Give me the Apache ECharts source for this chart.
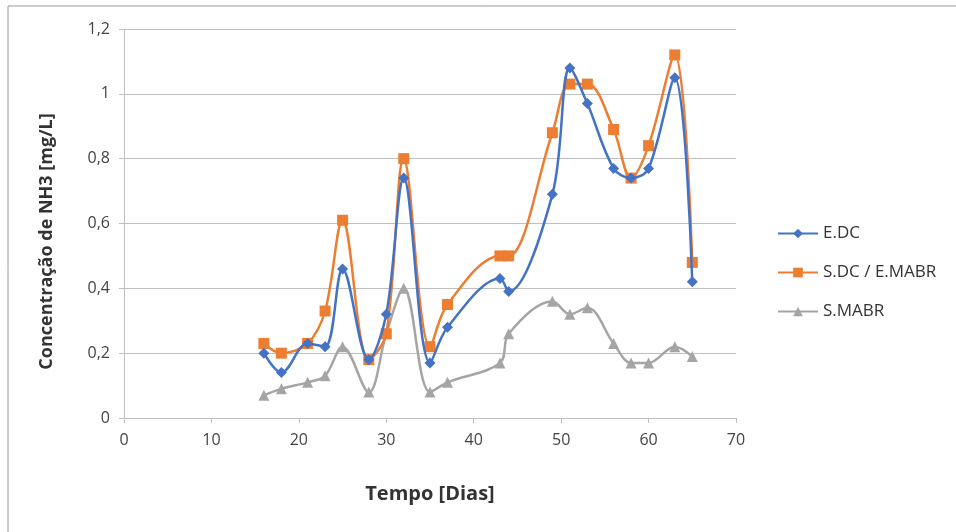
<!doctype html>
<html>
<head>
    <meta charset="utf-8">
    <title>NH3</title>
    <script src="https://cdn.jsdelivr.net/npm/echarts@6/dist/echarts.min.js"></script>
    <style>
        html, body { margin: 0; padding: 0; background: #fff; }
    </style>
</head>
<body>
    <div id="main" style="width: 956px;height:532px;"></div>
<script type="text/javascript">
    // dias
    var dias = [16, 18, 21, 23, 25, 28, 30, 32, 35, 37, 43, 44, 49, 51, 53, 56, 58, 60, 63, 65];
    var eDC = [0.20, 0.14, 0.23, 0.22, 0.46, 0.18, 0.32, 0.74, 0.17, 0.28, 0.43, 0.39, 0.69, 1.08, 0.97, 0.77, 0.74, 0.77, 1.05, 0.42];
    var sDC = [0.23, 0.20, 0.23, 0.33, 0.61, 0.18, 0.26, 0.80, 0.22, 0.35, 0.50, 0.50, 0.88, 1.03, 1.03, 0.89, 0.74, 0.84, 1.12, 0.48];
    var sMABR = [0.07, 0.09, 0.11, 0.13, 0.22, 0.08, 0.26, 0.40, 0.08, 0.11, 0.17, 0.26, 0.36, 0.32, 0.34, 0.23, 0.17, 0.17, 0.22, 0.19];
    var nomes = ['E.DC', 'S.DC / E.MABR', 'S.MABR'];

    function pares(ys) {
        var r = [];
        for (var i = 0; i < dias.length; i++) r.push([dias[i], ys[i]]);
        return r;
    }

    var fonte = 'Open Sans';
    var myChart = echarts.init(document.getElementById('main'));
    var option = {
        animation: false,
        textStyle: { fontFamily: fonte },
        graphic: [{
            type: 'rect',
            shape: { x: 8, y: 6, width: 1000, height: 600 },
            style: { fill: 'none', stroke: '#9a9a9a', lineWidth: 1 }
        }],
        grid: { left: 124, right: 220, top: 29, bottom: 114 },
        legend: {
            orient: 'vertical',
            left: 772,
            top: 220,
            itemGap: 22,
            itemWidth: 40,
            itemHeight: 12,
            textStyle: { fontSize: 17, color: '#333', fontFamily: fonte },
            data: nomes
        },
        xAxis: {
            type: 'value',
            min: 0, max: 70, interval: 10,
            name: 'Tempo [Dias]',
            nameLocation: 'middle',
            nameGap: 66,
            nameTextStyle: { fontSize: 20, fontWeight: 'bold', color: '#333' },
            axisLine: { show: true, lineStyle: { color: '#bfbfbf' } },
            axisTick: { show: true, length: 5, lineStyle: { color: '#bfbfbf' } },
            axisLabel: { fontSize: 16, color: '#444', margin: 14 },
            splitLine: { show: false }
        },
        yAxis: {
            type: 'value',
            min: 0, max: 1.2, interval: 0.2,
            name: 'Concentração de NH3 [mg/L]',
            nameLocation: 'middle',
            nameGap: 68,
            nameTextStyle: { fontSize: 18, fontWeight: 'bold', color: '#333', padding: [0, 36, 0, 0] },
            axisLine: { show: true, lineStyle: { color: '#bfbfbf' } },
            axisTick: { show: true, length: 5, lineStyle: { color: '#bfbfbf' } },
            axisLabel: {
                fontSize: 16, color: '#444', margin: 14,
                formatter: function (v) { return String(Math.round(v * 10) / 10).replace('.', ','); }
            },
            splitLine: { lineStyle: { color: '#bfbfbf' } }
        },
        series: [{
            name: nomes[0],
            type: 'line',
            smooth: 0.35,
            data: pares(eDC),
            symbol: 'diamond',
            symbolSize: 11,
            lineStyle: { width: 2.5, color: '#4472C4' },
            itemStyle: { color: '#4472C4' },
            z: 3
        }, {
            name: nomes[1],
            type: 'line',
            smooth: 0.35,
            data: pares(sDC),
            symbol: 'rect',
            symbolSize: 11,
            lineStyle: { width: 2.5, color: '#ED7D31' },
            itemStyle: { color: '#ED7D31' },
            z: 2
        }, {
            name: nomes[2],
            type: 'line',
            smooth: 0.35,
            data: pares(sMABR),
            symbol: 'triangle',
            symbolSize: 11,
            lineStyle: { width: 2.5, color: '#A5A5A5' },
            itemStyle: { color: '#A5A5A5' },
            z: 1
        }]
    };
    myChart.setOption(option);
</script>
</body>
</html>
